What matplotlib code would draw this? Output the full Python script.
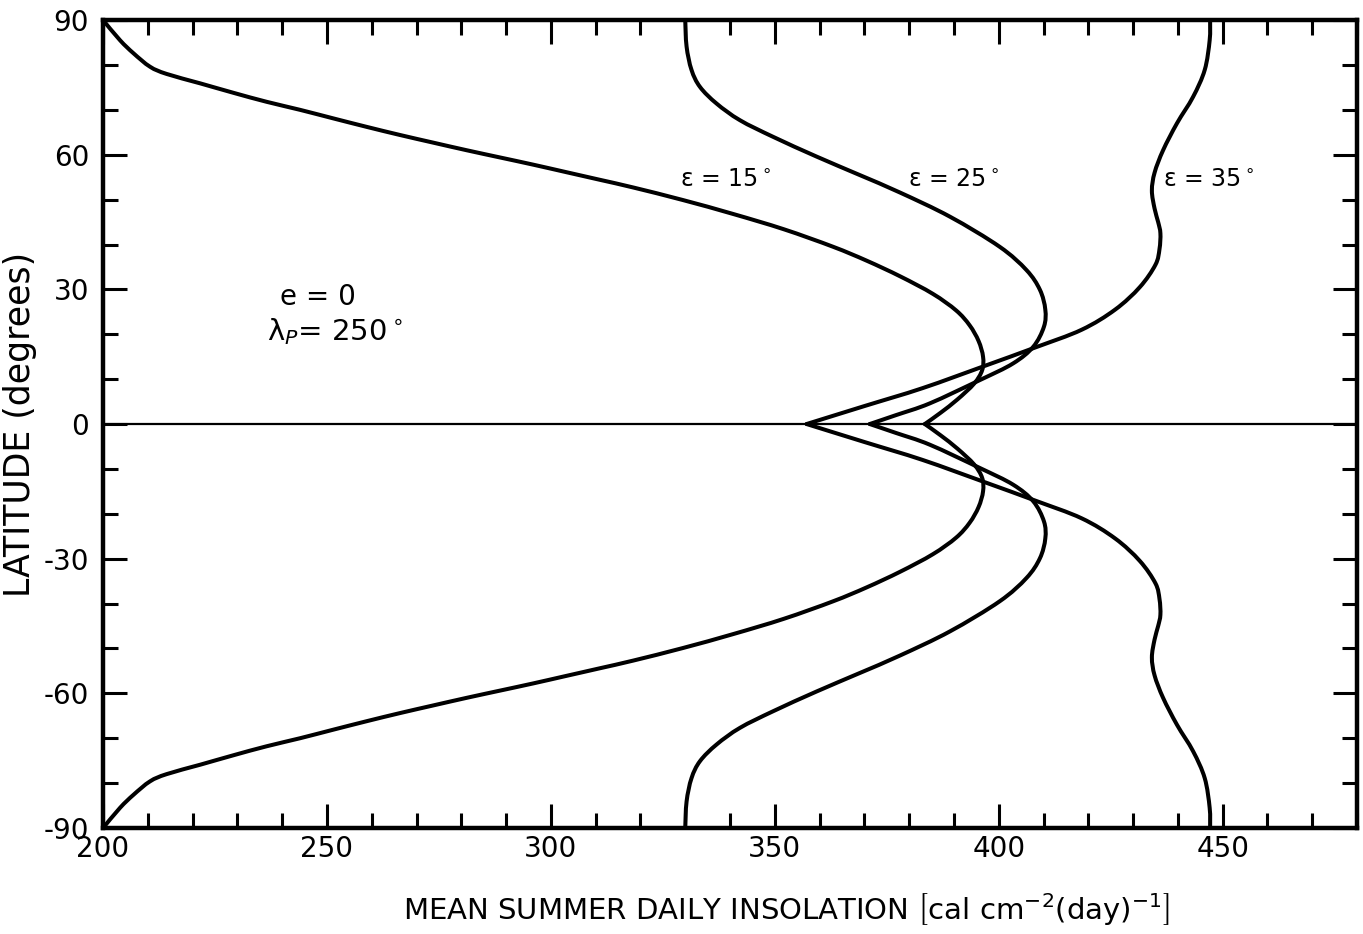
import numpy as np
import matplotlib
matplotlib.use("Agg")
import matplotlib.pyplot as plt
from matplotlib.path import Path
from matplotlib.patches import PathPatch
from matplotlib.ticker import MultipleLocator

plt.rcParams['font.family'] = ['DejaVu Sans']
plt.rcParams['mathtext.fontset'] = 'dejavusans'
plt.rcParams['axes.unicode_minus'] = False

# northern hemisphere readings (latitude, insolation); the figure is symmetric about 0
lat_15 = [90, 85.5, 82.6, 79.6, 78.0, 75.9, 73.8, 71.8, 70, 68.1, 66.2, 64.4, 62.7, 61.0, 59.4,
          57.8, 56.1, 54.4, 52.7, 49.9, 46.8, 43.4, 39.5, 36.4, 32.9, 29.0, 25.3, 22, 18.5, 15,
          12, 9, 5.5, 2.5, 0]
ins_15 = [200, 203.8, 206.8, 210.5, 214.2, 221.7, 229.1, 236.5, 244, 251.4, 258.9, 266.3, 273.7,
          281.2, 288.6, 296, 303.5, 311, 318.4, 329.5, 340.7, 352, 363, 370.5, 378, 385.3,
          390.5, 393.5, 395.5, 396.5, 396.3, 394.5, 390.8, 387, 383.5]

lat_25 = [90, 84.1, 78.9, 75.1, 71.4, 67.7, 64, 59.6, 55.5, 51.6, 46.2, 39.5, 34.3, 29.9, 25.5,
          21.7, 17.2, 13.5, 9.8, 4.6, 2.0, 0]
ins_25 = [330, 330.3, 331.4, 333.3, 337.0, 342.2, 349.6, 359.3, 368.9, 377.9, 389.1, 400.2,
          406.2, 409.2, 410.4, 410.1, 407.7, 403.2, 395.8, 384.6, 377.1, 371.2]

lat_35 = [90, 85.5, 78.9, 72.9, 67, 61, 56, 52, 48, 45, 42.5, 39, 35.5, 30.5, 25.5, 21, 17,
          13, 8, 4, 0]
ins_35 = [447.2, 447.1, 446.0, 443.4, 439.8, 436.7, 434.8, 434.2, 434.8, 435.6, 436.1, 435.9,
          435.0, 431.5, 426, 418.5, 408, 397, 383, 370, 357.1]

curve_labels = ["ε = 15$^\\circ$", "ε = 25$^\\circ$", "ε = 35$^\\circ$"]
label_x = [328.8, 379.7, 436.6]
label_y = [54.4, 54.4, 54.4]


def smooth_path(xs, ys):
    # Catmull-Rom through the read points, drawn as cubic Bezier segments
    p = np.column_stack([xs, ys]).astype(float)
    ext = np.vstack([p[0], p, p[-1]])
    verts = [p[0]]
    codes = [Path.MOVETO]
    for i in range(len(p) - 1):
        p0, p1, p2, p3 = ext[i], ext[i + 1], ext[i + 2], ext[i + 3]
        verts += [p1 + (p2 - p0) / 6.0, p2 - (p3 - p1) / 6.0, p2]
        codes += [Path.CURVE4] * 3
    return verts, codes


fig = plt.figure(figsize=(13.63, 9.34), dpi=100)
ax = fig.add_axes([0.0756, 0.1135, 0.92, 0.865])

for lat, ins in [(lat_15, ins_15), (lat_25, ins_25), (lat_35, ins_35)]:
    lat = np.asarray(lat, float)
    for sign in (1, -1):
        v, c = smooth_path(ins, sign * lat)
        ax.add_patch(PathPatch(Path(v, c), fill=False, edgecolor='black', lw=2.9,
                               joinstyle='miter', capstyle='round'))

ax.axhline(0, color='black', lw=1.6)

for txt, lx, ly in zip(curve_labels, label_x, label_y):
    ax.text(lx, ly, txt, fontsize=17, ha='left', va='center')

ax.text(239.5, 28.3, "e = 0", fontsize=20, ha='left', va='center')
ax.text(236.5, 20.5, "λ$_P$= 250$^\\circ$", fontsize=21, ha='left', va='center')

ax.set_xlim(200, 480)
ax.set_ylim(-90, 90)
ax.set_xticks([200, 250, 300, 350, 400, 450])
ax.xaxis.set_minor_locator(MultipleLocator(10))
ax.yaxis.set_major_locator(MultipleLocator(30))
ax.yaxis.set_minor_locator(MultipleLocator(10))
ax.tick_params(which='both', direction='in', top=True, right=True, width=2.2, labelsize=20)
ax.tick_params(which='major', length=17)
ax.tick_params(which='minor', length=11)
ax.tick_params(axis='y', pad=10)
ax.tick_params(axis='x', pad=5)
for sp in ax.spines.values():
    sp.set_linewidth(3.2)

ax.set_xlabel("MEAN SUMMER DAILY INSOLATION $\\left[\\mathrm{cal\\ cm^{-2}(day)^{-1}}\\right]$",
              fontsize=21)
ax.xaxis.set_label_coords(0.545, -0.078)
ax.set_ylabel("LATITUDE (degrees)", fontsize=25)
ax.yaxis.set_label_coords(-0.053, 0.5)

fig.savefig("out.png", dpi=100)
